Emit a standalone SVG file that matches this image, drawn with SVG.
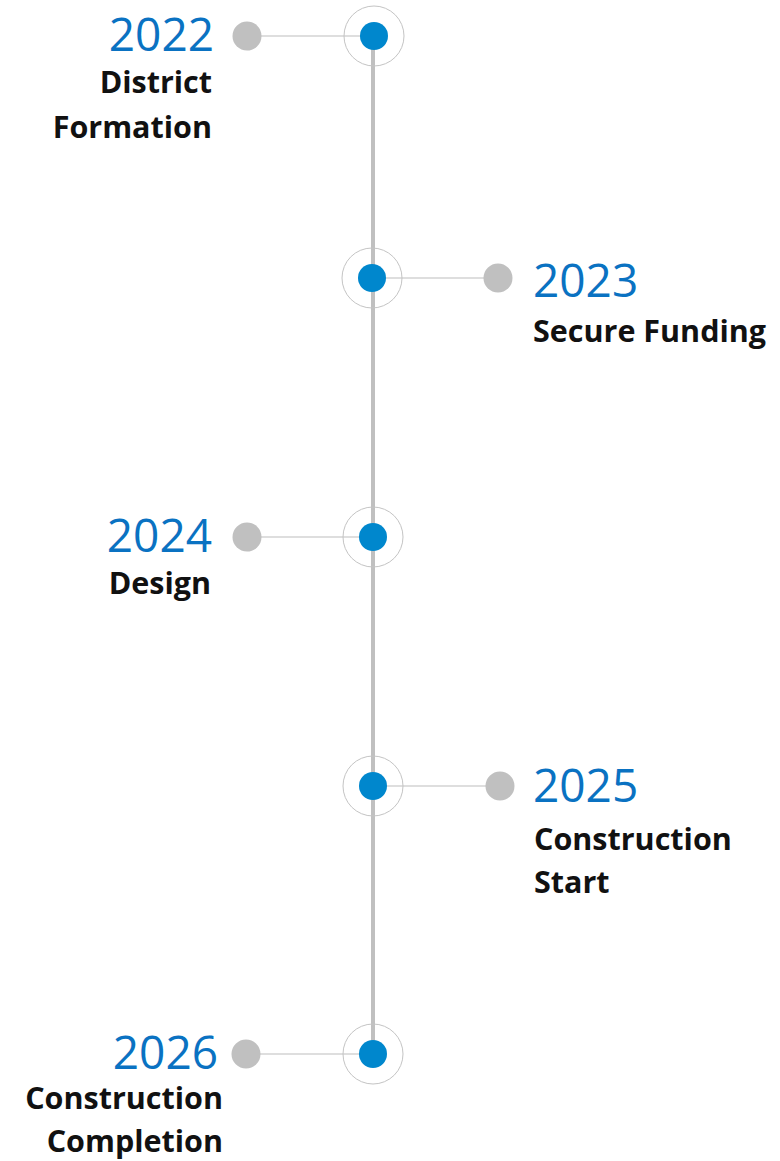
<svg xmlns="http://www.w3.org/2000/svg" width="780" height="1161" viewBox="0 0 780 1161">
<style>
.year{font-family:"Open Sans","Noto Sans",sans-serif;font-size:46px;fill:#0a72c2}
.lbl{font-family:"Open Sans","Noto Sans",sans-serif;font-size:30.5px;font-weight:bold;fill:#111}
.ring{fill:none;stroke:#c4c4c4;stroke-width:1}
.dot{fill:#0087cd}
.gdot{fill:#c0c0c0}
.tick{stroke:#bdbdbd;stroke-width:1.2}
</style>
<g id="connectors">
<line x1="373" y1="36" x2="373" y2="1054" stroke="#c0c0c0" stroke-width="4"/>
<line class="tick" x1="247" y1="36" x2="374" y2="36"/>
<line class="tick" x1="372" y1="278" x2="498" y2="278"/>
<line class="tick" x1="247" y1="537" x2="373" y2="537"/>
<line class="tick" x1="373" y1="786" x2="500" y2="786"/>
<line class="tick" x1="246" y1="1054" x2="373" y2="1054"/>
</g>
<g id="n2022">
<circle class="ring" cx="374" cy="36" r="30"/>
<circle class="dot" cx="374" cy="36" r="14"/>
<circle class="gdot" cx="247" cy="36" r="14.5"/>
<text class="year" x="214" y="51" text-anchor="end">2022</text>
<text class="lbl" x="212" y="93" text-anchor="end">District</text>
<text class="lbl" x="212" y="138" text-anchor="end">Formation</text>
</g>
<g id="n2023">
<circle class="ring" cx="372" cy="278" r="30"/>
<circle class="dot" cx="372" cy="278" r="14"/>
<circle class="gdot" cx="498" cy="278" r="14.5"/>
<text class="year" x="533" y="297">2023</text>
<text class="lbl" x="533" y="342">Secure Funding</text>
</g>
<g id="n2024">
<circle class="ring" cx="373" cy="537" r="30"/>
<circle class="dot" cx="373" cy="537" r="14"/>
<circle class="gdot" cx="247" cy="537" r="14.5"/>
<text class="year" x="212" y="552" text-anchor="end">2024</text>
<text class="lbl" x="211" y="594" text-anchor="end">Design</text>
</g>
<g id="n2025">
<circle class="ring" cx="373" cy="786" r="30"/>
<circle class="dot" cx="373" cy="786" r="14"/>
<circle class="gdot" cx="500" cy="786" r="14.5"/>
<text class="year" x="533" y="802">2025</text>
<text class="lbl" x="534" y="850">Construction</text>
<text class="lbl" x="534" y="893">Start</text>
</g>
<g id="n2026">
<circle class="ring" cx="373" cy="1054" r="30"/>
<circle class="dot" cx="373" cy="1054" r="14"/>
<circle class="gdot" cx="246" cy="1054" r="14.5"/>
<text class="year" x="218" y="1069" text-anchor="end">2026</text>
<text class="lbl" x="223" y="1109" text-anchor="end">Construction</text>
<text class="lbl" x="223" y="1152" text-anchor="end">Completion</text>
</g>
</svg>
